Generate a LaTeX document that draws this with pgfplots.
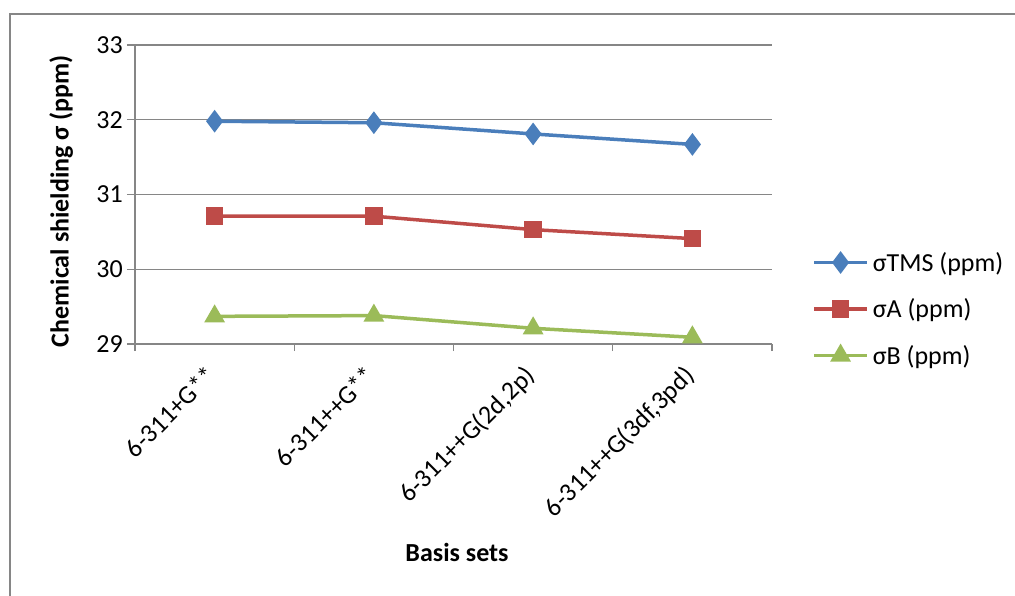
\documentclass[border=0pt]{standalone}
\usepackage{pgfplots}
\pgfplotsset{compat=1.18}
\usepackage{fontspec}
\setmainfont{Carlito}

\definecolor{cblue}{RGB}{74,126,187}
\definecolor{cred}{RGB}{190,75,72}
\definecolor{cgreen}{RGB}{155,187,89}
\definecolor{cgrid}{RGB}{134,134,134}

\pgfplotstableread{
x tms a b
0 31.98 30.71 29.37
1 31.96 30.71 29.38
2 31.81 30.53 29.21
3 31.67 30.41 29.09
}\datatable

\newcommand{\bigfont}{\fontsize{26}{31}\selectfont}

\begin{document}
\begin{tikzpicture}
\useasboundingbox (0,0) rectangle (1015pt,595pt);
\begin{scope}
\clip (0,0) rectangle (1015pt,595pt);
\draw[cgrid, line width=2pt] (10pt,-20pt) -- (10pt,581pt) -- (1040pt,581pt);
\end{scope}
\begin{axis}[
  at={(135pt,251pt)}, anchor=south west,
  scale only axis, width=637pt, height=299pt,
  xmin=-0.5, xmax=3.5, ymin=29, ymax=33,
  axis x line*=bottom, axis y line*=left,
  axis line style={cgrid, line width=1.3pt},
  xtick={0,1,2,3},
  xticklabels={6-311+G**, 6-311++G**, {6-311++G(2d,2p)}, {6-311++G(3df,3pd)}},
  minor xtick={-0.5,0.5,1.5,2.5,3.5},
  ytick={29,30,31,32,33},
  tick align=outside,
  major tick length=8pt, minor tick length=7pt,
  tick style={cgrid, line width=1.3pt},
  major x tick style={draw=none},
  ymajorgrids, grid style={cgrid, line width=1.3pt},
  /pgf/number format/assume math mode=true,
  tick label style={font=\bigfont, inner sep=2pt},
  yticklabel style={xshift=-2pt},
  xticklabel style={text height=0.7em, text depth=0.2em, xshift=3pt, yshift=-22pt, rotate=45, anchor=east},
  ylabel={Chemical shielding σ (ppm)},
  ylabel style={font=\bfseries\bigfont, at={(axis description cs:-0.116,0.478)}, anchor=center},
  xlabel={Basis sets},
  xlabel style={font=\bfseries\bigfont, at={(axis description cs:0.5055,-0.697)}, anchor=center},
  legend style={draw=none, fill=none, inner sep=0pt, font=\bigfont,
    at={(axis description cs:1.063,0.117)}, anchor=west,
    row sep=26pt, column sep=4pt, nodes={inner sep=0pt}},
  legend cell align=left,
  legend image code/.code={\draw[mark repeat=2,mark phase=2] plot coordinates {(0pt,0pt) (26.5pt,0pt) (53pt,0pt)};},
]
\addplot[cblue, line width=3.5pt, mark=diamond*, mark size=8.5pt, mark options={solid}] table[x=x, y=tms] {\datatable};
\addlegendentry{σTMS (ppm)}
\addplot[cred, line width=3.5pt, mark=square*, mark size=7pt] table[x=x, y=a] {\datatable};
\addlegendentry{σA (ppm)}
\addplot[cgreen, line width=3.5pt, mark=triangle*, mark size=8.5pt] table[x=x, y=b] {\datatable};
\addlegendentry{σB (ppm)}
\end{axis}
\end{tikzpicture}
\end{document}
